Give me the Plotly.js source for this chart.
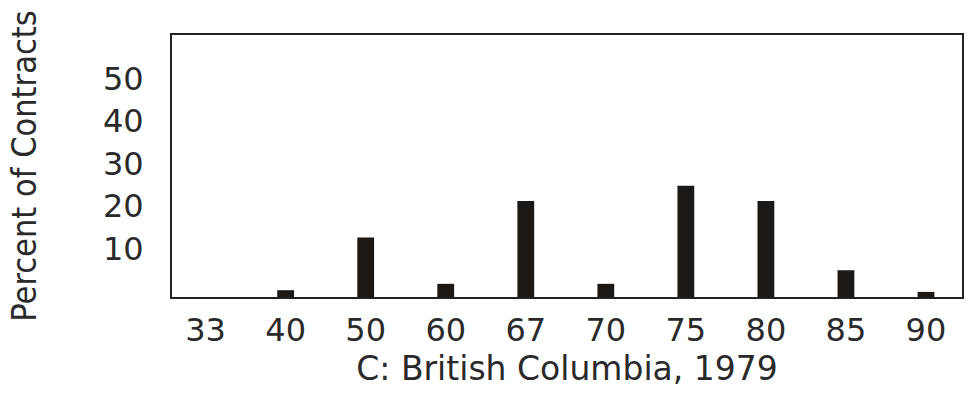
<!DOCTYPE html>
<html>
<head>
<meta charset="utf-8">
<script src="https://cdn.plot.ly/plotly-3.0.1.min.js"></script>
<style>html,body{margin:0;padding:0;background:#fff;}#chart{width:968px;height:402px;}</style>
</head>
<body>
<div id="chart"></div>
<script>
const categories = ["33", "40", "50", "60", "67", "70", "75", "80", "85", "90"];
const percentValues = [0, 1.6, 14.0, 3.1, 22.6, 3.1, 26.2, 22.6, 6.3, 1.2];
const yTickValues = [10, 20, 30, 40, 50];
const yTickLabels = ["10", "20", "30", "40", "50"];
const xTitle = "C: British Columbia, 1979";
const yTitle = "Percent of Contracts";

const trace = {
  type: "bar",
  x: categories,
  y: percentValues,
  width: 0.21,
  marker: { color: "#1c1816", line: { width: 0 } },
  hoverinfo: "x+y"
};

const tickFont = { family: "DejaVu Sans", size: 32, color: "#2a2a2a" };

const layout = {
  width: 968,
  height: 402,
  margin: { l: 172, r: 6, t: 35, b: 105 },
  paper_bgcolor: "#ffffff",
  plot_bgcolor: "#ffffff",
  showlegend: false,
  xaxis: {
    type: "category",
    range: [-0.42, 9.45],
    showgrid: false,
    zeroline: false,
    showline: true,
    linecolor: "#222",
    linewidth: 2,
    mirror: true,
    ticks: "outside",
    ticklen: 4,
    tickcolor: "rgba(0,0,0,0)",
    tickfont: tickFont,
    title: { text: xTitle, font: { family: "DejaVu Sans", size: 33, color: "#2a2a2a" }, standoff: 2 }
  },
  yaxis: {
    range: [0, 61.65],
    tickvals: yTickValues,
    ticktext: yTickLabels,
    showgrid: false,
    zeroline: false,
    showline: true,
    linecolor: "#222",
    linewidth: 2,
    mirror: true,
    ticks: "outside",
    ticklen: 20,
    tickcolor: "rgba(0,0,0,0)",
    ticklabelshift: -6,
    tickfont: tickFont,
    title: { text: yTitle, font: { family: "DejaVu Sans Condensed, Liberation Sans", size: 34, color: "#2a2a2a" }, standoff: 56 }
  }
};

Plotly.newPlot("chart", [trace], layout, { displayModeBar: false, staticPlot: true });
</script>
</body>
</html>
